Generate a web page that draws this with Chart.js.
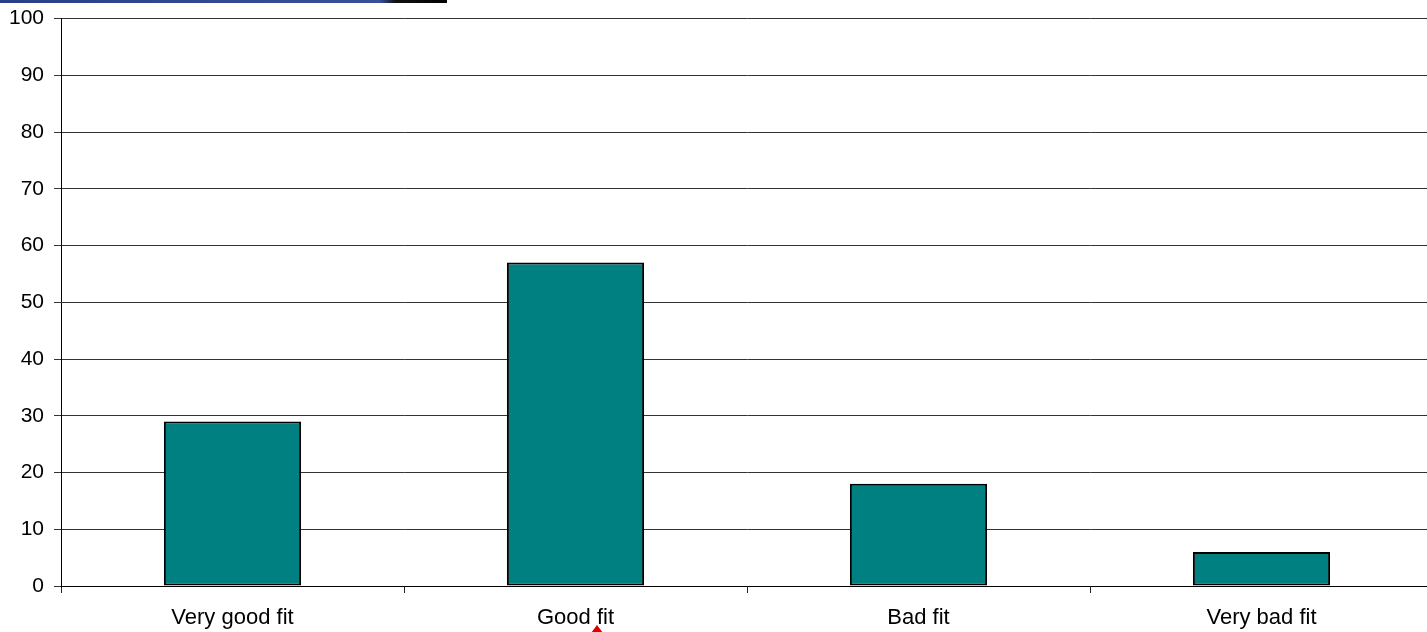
<!DOCTYPE html>
<html>
<head>
<meta charset="utf-8">
<script src="https://cdn.jsdelivr.net/npm/chart.js@4/dist/chart.umd.min.js"></script>
<style>
  html, body { margin: 0; padding: 0; background: #fff; overflow: hidden; width: 1427px; height: 632px; }
  #wrap { position: absolute; left: 0; top: -4px; width: 1440px; height: 636px; }
  #band { position: absolute; left: 0; top: 0; width: 447px; height: 3px;
          background: linear-gradient(to right, #2a3f8a 0, #3a4f9a 380px, #111 395px, #000 447px); z-index: 2; }
  #tri { position: absolute; left: 591px; top: 625px; width: 0; height: 0;
         border-left: 6px solid transparent; border-right: 6px solid transparent;
         border-bottom: 8px solid #e00000; z-index: 2; }
</style>
</head>
<body>
<div id="wrap"><canvas id="c"></canvas></div>
<div id="band"></div>
<div id="tri"></div>
<script>
const categories = ["Very good fit", "Good fit", "Bad fit", "Very bad fit"];
const values = [29, 57, 18, 6];
const yTicks = [0, 10, 20, 30, 40, 50, 60, 70, 80, 90, 100];

const ctx = document.getElementById('c').getContext('2d');
new Chart(ctx, {
  type: 'bar',
  data: {
    labels: categories,
    datasets: [{
      data: values,
      backgroundColor: '#008080',
      borderColor: '#000000',
      borderWidth: 2,
      borderSkipped: false,
      categoryPercentage: 1.0,
      barPercentage: 0.4
    }]
  },
  options: {
    responsive: true,
    maintainAspectRatio: false,
    animation: false,
    devicePixelRatio: 1,
    layout: { padding: { top: 4, right: 7, left: 0, bottom: 0 } },
    plugins: { legend: { display: false }, tooltip: { enabled: false } },
    scales: {
      x: {
        grid: { display: true, drawOnChartArea: false, offset: true, color: '#222', tickLength: 7 },
        border: { display: true, color: '#000', width: 1 },
        ticks: { color: '#000', padding: 12, font: { family: 'Liberation Sans, Arial, sans-serif', size: 22 }, maxRotation: 0 },
        afterFit: (s) => { s.height = 46; }
      },
      y: {
        min: yTicks[0],
        max: yTicks[yTicks.length - 1],
        afterBuildTicks: (s) => { s.ticks = yTicks.map(v => ({ value: v })); },
        grid: { color: '#333', tickLength: 7, lineWidth: 1 },
        border: { display: true, color: '#000', width: 1 },
        ticks: { color: '#000', padding: 10, font: { family: 'Liberation Sans, Arial, sans-serif', size: 21 } },
        afterFit: (s) => { s.width = 61; }
      }
    }
  }
});
</script>
</body>
</html>
